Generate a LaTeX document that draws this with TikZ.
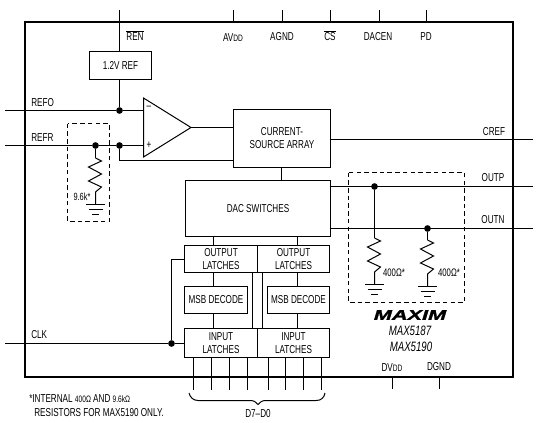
\documentclass[tikz,border=0pt]{standalone}
\usepackage{fontspec}
\setmainfont[FakeStretch=0.71]{Liberation Sans}
\newfontfamily\maxfont[UprightFont=* Bold Italic,FakeStretch=1.55,FakeBold=2]{Liberation Sans}
\newcommand{\ovl}[1]{\vbox{\hrule height .5pt\kern 1pt\hbox{#1}}}
\newcommand{\smalldd}[1]{{\fontsize{7}{8}\selectfont #1}}
\tikzset{
  wire/.style={line width=.75pt},
  frame/.style={line width=1.4pt},
  blk/.style={draw,line width=.75pt,inner sep=0pt,align=center,font=\fontsize{8.6}{9.8}\selectfont},
  lab/.style={inner sep=0pt,font=\fontsize{8.6}{9.8}\selectfont},
  dot/.style={circle,fill=black,inner sep=0pt,minimum size=5pt},
  dashbox/.style={line width=.75pt,dash pattern=on 3.4pt off 2.4pt},
  res/.pic={
    \draw[wire] (0,0) -- (6,3) -- (-7,9) -- (6,16) -- (-7,23) -- (6,29) -- (0,34) -- (0,46);
    \draw[wire] (-9.5,46) -- (9.5,46) (-7,51.5) -- (7,51.5) (-3.5,56.5) -- (3.5,56.5);
  }
}
\begin{document}
\begin{tikzpicture}[x=.75pt,y=-.75pt]
\useasboundingbox (0,0) rectangle (540,422);
% frame
\draw[frame] (25,22) rectangle (513,377);
% blocks
\node[blk,minimum width=62*.75pt,minimum height=28*.75pt] (ref) at (120.5,65.5) {1.2V REF};
\node[blk,minimum width=97*.75pt,minimum height=58*.75pt] (csa) at (282,138.5) {CURRENT-\\SOURCE ARRAY};
\node[blk,minimum width=145*.75pt,minimum height=56*.75pt] (dac) at (258,208.5) {DAC SWITCHES};
\node[blk,minimum width=73*.75pt,minimum height=27*.75pt] (ol1) at (221,259) {OUTPUT\\LATCHES};
\node[blk,minimum width=72*.75pt,minimum height=27*.75pt] (ol2) at (293.5,259) {OUTPUT\\LATCHES};
\node[blk,minimum width=63*.75pt,minimum height=27*.75pt] (ms1) at (216,300) {MSB DECODE};
\node[blk,minimum width=62*.75pt,minimum height=27*.75pt] (ms2) at (298.5,300) {MSB DECODE};
\node[blk,minimum width=73*.75pt,minimum height=29*.75pt] (il1) at (221,343) {INPUT\\LATCHES};
\node[blk,minimum width=72*.75pt,minimum height=29*.75pt] (il2) at (293.5,343) {INPUT\\LATCHES};
% op amp
\coordinate (oa) at (143.5,98);
\coordinate (ob) at (143.5,157);
\coordinate (oc) at (191,127.5);
\draw[wire] (oa) -- (ob) -- (oc) -- cycle;
\node[lab] (minus) at (149,108) {–};
\node[lab] (plus) at (149,145.5) {+};
% junctions
\node[dot] (j1) at (119.5,110.5) {};
\node[dot] (j2) at (119.5,145.5) {};
\node[dot] (j3) at (95.5,145.5) {};
\node[dot] (j4) at (374.5,186.5) {};
\node[dot] (j5) at (427.5,228.5) {};
\node[dot] (j6) at (171.5,343.5) {};
% pins
\coordinate (pren) at (119.5,10);
\coordinate (pav) at (233.5,10);
\coordinate (pag) at (282.5,10);
\coordinate (pcs) at (330.5,10);
\coordinate (pda) at (379.5,10);
\coordinate (ppd) at (426.5,10);
\coordinate (pavb) at (233.5,22);
\coordinate (pagb) at (282.5,22);
\coordinate (pcsb) at (330.5,22);
\coordinate (pdab) at (379.5,22);
\coordinate (ppdb) at (426.5,22);
\coordinate (prefo) at (5,110.5);
\coordinate (prefr) at (5,145.5);
\coordinate (pclk) at (5,343.5);
\coordinate (pcref) at (533,139.5);
\coordinate (poutp) at (533,186.5);
\coordinate (poutn) at (533,228.5);
\coordinate (pdv) at (392.5,377);
\coordinate (pdvb) at (392.5,389);
\coordinate (pdg) at (439.5,377);
\coordinate (pdgb) at (439.5,389);
\coordinate (wc) at (281.5,0);
\coordinate (wl) at (213.5,0);
\coordinate (wr) at (297.5,0);
\draw[wire] (pren) -- (pren |- ref.north);
\draw[wire] (pav) -- (pavb);
\draw[wire] (pag) -- (pagb);
\draw[wire] (pcs) -- (pcsb);
\draw[wire] (pda) -- (pdab);
\draw[wire] (ppd) -- (ppdb);
\draw[wire] (pdv) -- (pdvb);
\draw[wire] (pdg) -- (pdgb);
\draw[wire] (j1 |- ref.south) -- (j1);
\draw[wire] (prefo) -- (j1) -- (j1 -| oa);
\draw[wire] (prefr) -- (j3) -- (j2) -- (j2 -| oa);
\draw[wire] (j2) -- (119.5,160.5) -- (csa.west |- 0,160.5);
\draw[wire] (oc) -- (csa.west |- oc);
\draw[wire] (wc |- csa.south) -- (wc |- dac.north);
\draw[wire] (csa.east |- pcref) -- (pcref);
\draw[wire] (dac.east |- poutp) -- (poutp);
\draw[wire] (dac.east |- poutn) -- (poutn);
% latch connections
\draw[wire] (wl |- ol1.north) -- (wl |- dac.south);
\draw[wire] (wr |- ol2.north) -- (wr |- dac.south);
\draw[wire] (wl |- ol1.south) -- (wl |- ms1.north);
\draw[wire] (wr |- ol2.south) -- (wr |- ms2.north);
\draw[wire] (wl |- ms1.south) -- (wl |- il1.north);
\draw[wire] (wr |- ms2.south) -- (wr |- il2.north);
\draw[wire] (252.5,272.5) -- (252.5,328.5);
\draw[wire] (262.5,272.5) -- (262.5,328.5);
\draw[wire] (pclk) -- (j6) -- (il1.west |- j6);
\draw[wire] (j6) -- (j6 |- ol1.west) -- (ol1.west);
% data lines
\foreach \dx in {193.5,211.5,229.5,247.5,268.5,285.5,303.5,321.5}
  \draw[wire] (\dx,357.5) -- (\dx,390);
% brace
\coordinate (b1) at (189,393);
\coordinate (b2) at (325,393);
\coordinate (bt) at (258,404.5);
\draw[wire] (b1) .. controls (190,397) and (193,400.5) .. (198,400.5) -- (250,400.5)
  .. controls (254,400.5) and (256,402) .. (bt)
  .. controls (260,402) and (262,400.5) .. (266,400.5) -- (316,400.5)
  .. controls (321,400.5) and (324,398) .. (b2);
% dashed boxes
\draw[dashbox] (67.5,123.5) rectangle (109.5,221.5);
\draw[dashbox] (348.5,172.5) rectangle (464.5,302.5);
% resistors
\draw[wire] (j3) -- (95.5,158);
\pic at (95.5,158) {res};
\draw[wire] (j4) -- (374.5,238);
\pic at (374.5,238) {res};
\draw[wire] (j5) -- (427.5,240);
\pic at (427.5,240) {res};
% labels
\node[lab] (tren) at (135,36) {\ovl{REN}};
\node[lab] (tav) at (233,37.5) {AV\smalldd{DD}};
\node[lab] (tag) at (282,37) {AGND};
\node[lab] (tcs) at (330,36) {\ovl{CS}};
\node[lab] (tda) at (378,37) {DACEN};
\node[lab] (tpd) at (426,37) {PD};
\node[lab,anchor=west] (trefo) at (31,103) {REFO};
\node[lab,anchor=west] (trefr) at (31,137.5) {REFR};
\node[lab,anchor=west] (tclk) at (31,335) {CLK};
\node[lab] (tcref) at (494,131.5) {CREF};
\node[lab] (toutp) at (493,178) {OUTP};
\node[lab] (toutn) at (493,220) {OUTN};
\node[lab,font=\fontsize{7.8}{8}\selectfont] (t96) at (82,197) {9.6k*};
\node[lab,font=\fontsize{8.2}{8}\selectfont] (t401) at (394,273) {400Ω*};
\node[lab,font=\fontsize{8.2}{8}\selectfont] (t402) at (449,273) {400Ω*};
\node[lab,font=\fontsize{10.5}{12}\maxfont] (tmax) at (410,315) {MAXIM};
\node[lab,font=\fontsize{10.2}{10}\itshape\selectfont] (t87) at (410,331) {MAX5187};
\node[lab,font=\fontsize{10.2}{10}\itshape\selectfont] (t90) at (411,347) {MAX5190};
\node[lab] (tdv) at (392,368) {DV\smalldd{DD}};
\node[lab] (tdg) at (439,367) {DGND};
\node[lab] (td7) at (258,414) {D7–D0};
\node[lab,anchor=west] (tn1) at (29,399) {*INTERNAL \smalldd{400Ω} AND \smalldd{9.6kΩ}};
\node[lab,anchor=west] (tn2) at (34,413) {RESISTORS FOR MAX5190 ONLY.};
\end{tikzpicture}
\end{document}
